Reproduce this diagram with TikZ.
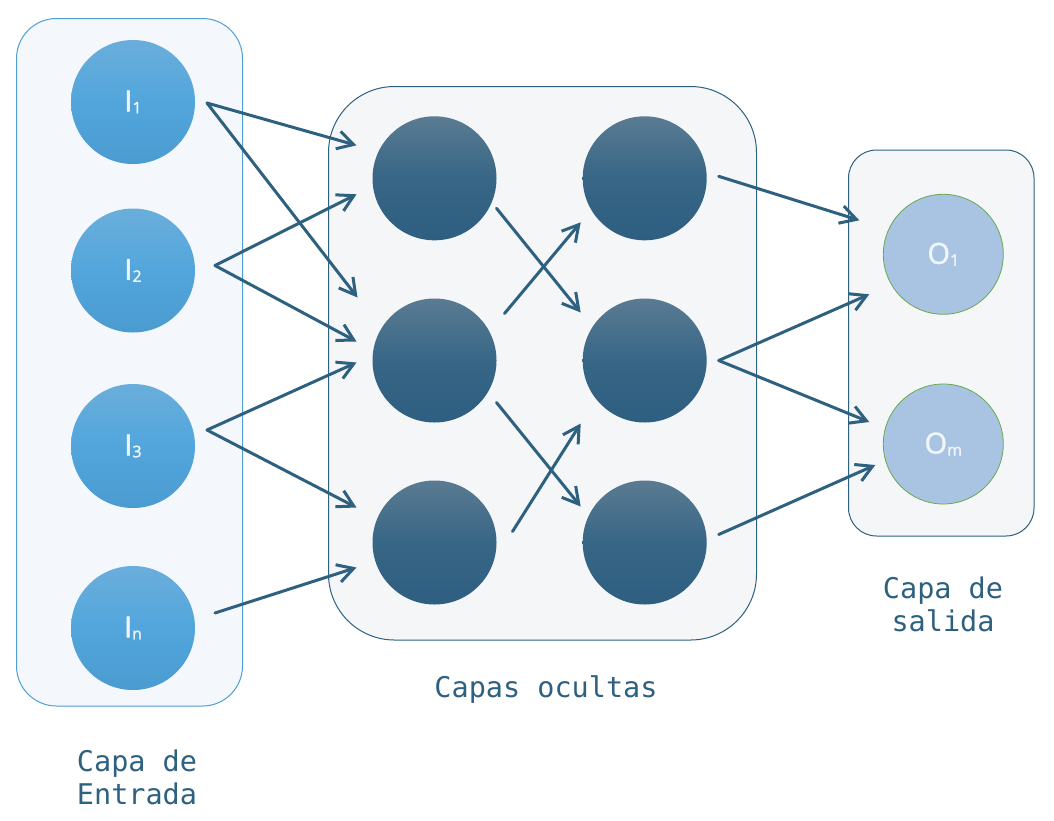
\documentclass[tikz,border=0pt]{standalone}
\usepackage{fontspec}
\setmainfont{Open Sans}
\newfontfamily\capfont{DejaVu Sans Mono}
\newfontfamily\labfont[FakeBold=1.6]{Open Sans}
\usetikzlibrary{arrows.meta}

\definecolor{linkblue}{HTML}{2E6080}
\definecolor{inedge}{HTML}{4F9FD4}
\definecolor{infill}{HTML}{F4F8FD}
\definecolor{boxfill}{HTML}{F4F6F8}
\definecolor{intop}{HTML}{6AAEDB}
\definecolor{inmid}{HTML}{52A6DC}
\definecolor{inbot}{HTML}{4A9BD0}
\definecolor{hidtop}{HTML}{5A7B92}
\definecolor{hidmid}{HTML}{376686}
\definecolor{hidbot}{HTML}{2E5E80}
\definecolor{outfill}{HTML}{A9C4E2}
\definecolor{outedge}{HTML}{6AA84F}
\definecolor{labwhite}{HTML}{F0F5FA}

\newcommand{\idx}[1]{\raisebox{-2pt}{\fontsize{16}{16}\selectfont #1}}

\begin{document}
\begin{tikzpicture}[x=1pt, y=-1pt, line cap=round, line join=round,
    layerbox/.style={draw, rounded corners=#1, line width=1pt, inner sep=0pt},
    inputneuron/.style={circle, minimum size=124pt, inner sep=0pt,
      top color=intop, bottom color=inbot, middle color=inmid,
      text=labwhite, font=\labfont\fontsize{29}{29}\selectfont},
    hiddenneuron/.style={circle, minimum size=124pt, inner sep=0pt,
      top color=hidtop, bottom color=hidbot, middle color=hidmid},
    outputneuron/.style={circle, minimum size=120pt, inner sep=0pt,
      fill=outfill, draw=outedge, line width=0.8pt,
      text=labwhite, font=\labfont\fontsize{29}{29}\selectfont},
    link/.style={linkblue, line width=3pt,
      -{Straight Barb[length=16pt, width=18pt]}},
    caption/.style={text=linkblue, align=center,
      font=\capfont\fontsize{28.5}{33}\selectfont}]

    \useasboundingbox (0,0) rectangle (1054,820);

    % layer boxes
    \node[layerbox=40, draw=inedge, fill=infill, minimum width=226pt, minimum height=687.5pt] (entrada) at (129.5,362.25) {};
    \node[layerbox=66, draw=linkblue, fill=boxfill, minimum width=428pt, minimum height=553.5pt] (ocultas) at (542.5,363.25) {};
    \node[layerbox=28, draw=linkblue, fill=boxfill, minimum width=185.5pt, minimum height=386pt] (salida) at (941.25,343) {};

    % input neurons
    \node[inputneuron] (i1) at (133,102) {I\idx{1}};
    \node[inputneuron] (i2) at (133,270.5) {I\idx{2}};
    \node[inputneuron] (i3) at (133,446) {I\idx{3}};
    \node[inputneuron] (in) at (133,628) {I\idx{n}};

    % hidden neurons
    \node[hiddenneuron] (h1) at (434.5,178.3) {};
    \node[hiddenneuron] (h2) at (434.5,360.5) {};
    \node[hiddenneuron] (h3) at (434.5,542.5) {};
    \node[hiddenneuron] (g1) at (644.7,178.3) {};
    \node[hiddenneuron] (g2) at (644.7,360.5) {};
    \node[hiddenneuron] (g3) at (644.7,542.5) {};

    % output neurons
    \node[outputneuron] (o1) at (943.3,254.3) {O\idx{1}};
    \node[outputneuron] (om) at (943.3,444) {O\idx{m}};

    % connections
    \draw[link] ([shift={(74,1)}]i1.center) -- ([shift={(-78,-33)}]h1.center);
    \draw[link] ([shift={(74,1)}]i1.center) -- ([shift={(-77,-63)}]h2.center);
    \draw[link] ([shift={(82,-5)}]i2.center) -- ([shift={(-78,16)}]h1.center);
    \draw[link] ([shift={(82,-5)}]i2.center) -- ([shift={(-78,-19)}]h2.center);
    \draw[link] ([shift={(74,-16)}]i3.center) -- ([shift={(-78,2)}]h2.center);
    \draw[link] ([shift={(74,-16)}]i3.center) -- ([shift={(-78,-35)}]h3.center);
    \draw[link] ([shift={(82,-15)}]in.center) -- ([shift={(-78,25)}]h3.center);

    \draw[link] ([shift={(62,30)}]h1.center) -- ([shift={(-64,-48)}]g2.center);
    \draw[link] ([shift={(70,-47)}]h2.center) -- ([shift={(-64,44)}]g1.center);
    \draw[link] ([shift={(62,42)}]h2.center) -- ([shift={(-64,-36)}]g3.center);
    \draw[link] ([shift={(78,-11)}]h3.center) -- ([shift={(-64,63)}]g2.center);

    \draw[link] ([shift={(74,-2)}]g1.center) -- ([shift={(-84,-34)}]o1.center);
    \draw[link] ([shift={(74,0)}]g2.center) -- ([shift={(-74,40)}]o1.center);
    \draw[link] ([shift={(74,0)}]g2.center) -- ([shift={(-74,-22)}]om.center);
    \draw[link] ([shift={(74,-8)}]g3.center) -- ([shift={(-68,21)}]om.center);

    % captions
    \node[caption] (tentrada) at (137,777) {Capa de\\Entrada};
    \node[caption, anchor=base] (tocultas) at (546,697) {Capas ocultas};
    \node[caption] (tsalida) at (943,604) {Capa de\\salida};

\end{tikzpicture}
\end{document}
